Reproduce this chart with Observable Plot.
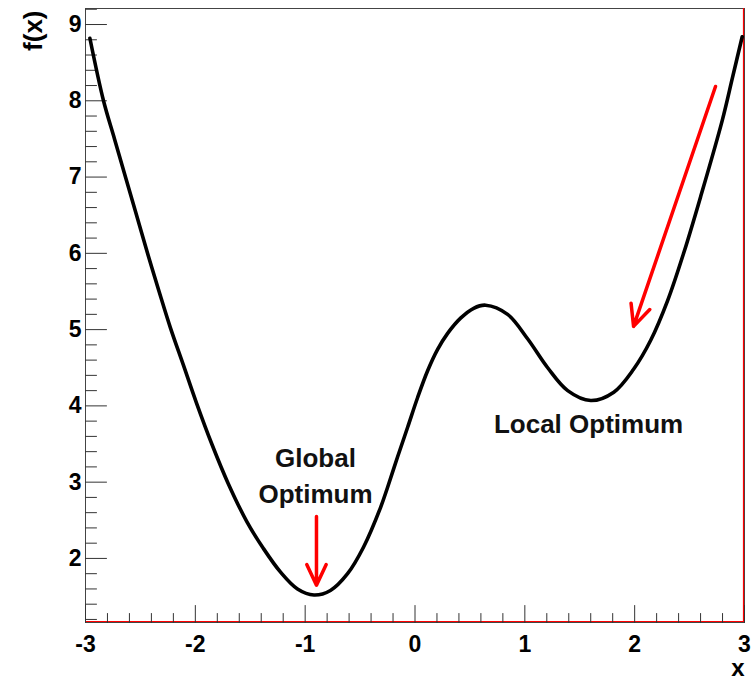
<!DOCTYPE html>
<html><head><meta charset="utf-8">
<script src="https://cdn.jsdelivr.net/npm/d3@7"></script>
<script src="https://cdn.jsdelivr.net/npm/@observablehq/plot@0.6"></script>
<style>body{margin:0;background:#fff} svg{display:block}</style>
</head><body><div id="chart"></div>
<script>
// f(x) curve
const curveX = [-2.96, -2.836, -2.736, -2.636, -2.535, -2.435, -2.33, -2.226, -2.11, -1.99, -1.85, -1.70, -1.53, -1.38, -1.224, -1.07, -0.92, -0.77, -0.614, -0.468, -0.313, -0.25, -0.159, -0.067, 0.024, 0.115, 0.206, 0.297, 0.415, 0.534, 0.643, 0.843, 1.025, 1.208, 1.39, 1.60, 1.81, 1.99, 2.146, 2.30, 2.45, 2.60, 2.797, 2.89, 2.979];
const curveY = [8.82, 8.00, 7.50, 7.00, 6.50, 6.00, 5.50, 5.02, 4.54, 4.04, 3.50, 2.98, 2.48, 2.13, 1.82, 1.60, 1.52, 1.58, 1.80, 2.15, 2.67, 2.93, 3.33, 3.72, 4.11, 4.46, 4.74, 4.95, 5.15, 5.28, 5.32, 5.20, 4.88, 4.50, 4.20, 4.07, 4.18, 4.48, 4.86, 5.38, 6.02, 6.74, 7.74, 8.30, 8.84];

const xDomain = [-3, 3];
const yDomain = [1.16, 9.21];
const xTickValues = [-3, -2, -1, 0, 1, 2, 3];
const yTickValues = [2, 3, 4, 5, 6, 7, 8, 9];
const xMinorTicks = d3.range(-30, 31, 2).map(d => d / 10).filter(d => !Number.isInteger(d));
const yMinorTicks = d3.range(12, 93, 2).map(d => d / 10).filter(d => !Number.isInteger(d));

const labelNames = ["Global", "Optimum", "Local Optimum"];
const labelX = [-0.906, -0.906, 1.58];
const labelY = [3.302, 2.830, 3.748];

const arrowX1 = [-0.897, 2.736];
const arrowY1 = [2.551, 8.187];
const arrowX2 = [-0.897, 1.990];
const arrowY2 = [1.647, 5.042];

const curve = curveX.map((x, i) => ({x, y: curveY[i]}));
const labels = labelNames.map((t, i) => ({t, x: labelX[i], y: labelY[i]}));
const arrows = arrowX1.map((x1, i) => ({x1, y1: arrowY1[i], x2: arrowX2[i], y2: arrowY2[i]}));

const tickShape = {draw(context, l) { context.moveTo(0, 0); context.lineTo(0, -l); }};
const tickColor = "#333";

const chart = Plot.plot({
  width: 753,
  height: 680,
  marginLeft: 85,
  marginRight: 9,
  marginTop: 8,
  marginBottom: 58,
  style: {fontFamily: "'Liberation Sans', Arial, sans-serif", fontWeight: "bold", fontSize: "23px", background: "#fff", color: "#000"},
  x: {domain: xDomain},
  y: {domain: yDomain},
  marks: [
    Plot.frame({stroke: "#444"}),
    Plot.ruleX([xDomain[1]], {stroke: "red", strokeWidth: 1.2, dx: -1}),
    Plot.ruleY([yDomain[0]], {stroke: "red", strokeWidth: 1.2, dy: -1}),
    Plot.vector(xTickValues, {x: d => d, frameAnchor: "bottom", length: 17, anchor: "start", rotate: 0, shape: tickShape, stroke: tickColor, strokeWidth: 1}),
    Plot.vector(xMinorTicks, {x: d => d, frameAnchor: "bottom", length: 9, anchor: "start", rotate: 0, shape: tickShape, stroke: tickColor, strokeWidth: 1}),
    Plot.vector(yTickValues, {y: d => d, frameAnchor: "left", length: 21, anchor: "start", rotate: 90, shape: tickShape, stroke: tickColor, strokeWidth: 1}),
    Plot.vector(yMinorTicks, {y: d => d, frameAnchor: "left", length: 11, anchor: "start", rotate: 90, shape: tickShape, stroke: tickColor, strokeWidth: 1}),
    Plot.axisX({ticks: xTickValues, tickSize: 0, tickPadding: 13, tickFormat: d => String(d), label: null, fontSize: 23, fontWeight: "bold"}),
    Plot.axisY({ticks: yTickValues, tickSize: 0, tickPadding: 4, tickFormat: d => String(d), label: null, fontSize: 23, fontWeight: "bold"}),
    Plot.line(curve, {x: "x", y: "y", curve: "catmull-rom", stroke: "#000", strokeWidth: 3.6}),
    Plot.arrow(arrows, {x1: "x1", y1: "y1", x2: "x2", y2: "y2", stroke: "red", strokeWidth: 3.5, headLength: 10, headAngle: 50}),
    Plot.text(labels, {x: "x", y: "y", text: "t", fontSize: 26, fontWeight: "bold", fill: "#111", lineAnchor: "middle", textAnchor: "middle"}),
    Plot.text(["f(x)"], {frameAnchor: "top-left", dx: -52, dy: 2, rotate: -90, textAnchor: "end", lineAnchor: "middle", fontSize: 26, fontWeight: "bold"}),
    Plot.text(["x"], {frameAnchor: "bottom-right", dx: 0, dy: 46, textAnchor: "end", lineAnchor: "middle", fontSize: 24, fontWeight: "bold"})
  ]
});
document.getElementById("chart").append(chart);
</script>
</body></html>
